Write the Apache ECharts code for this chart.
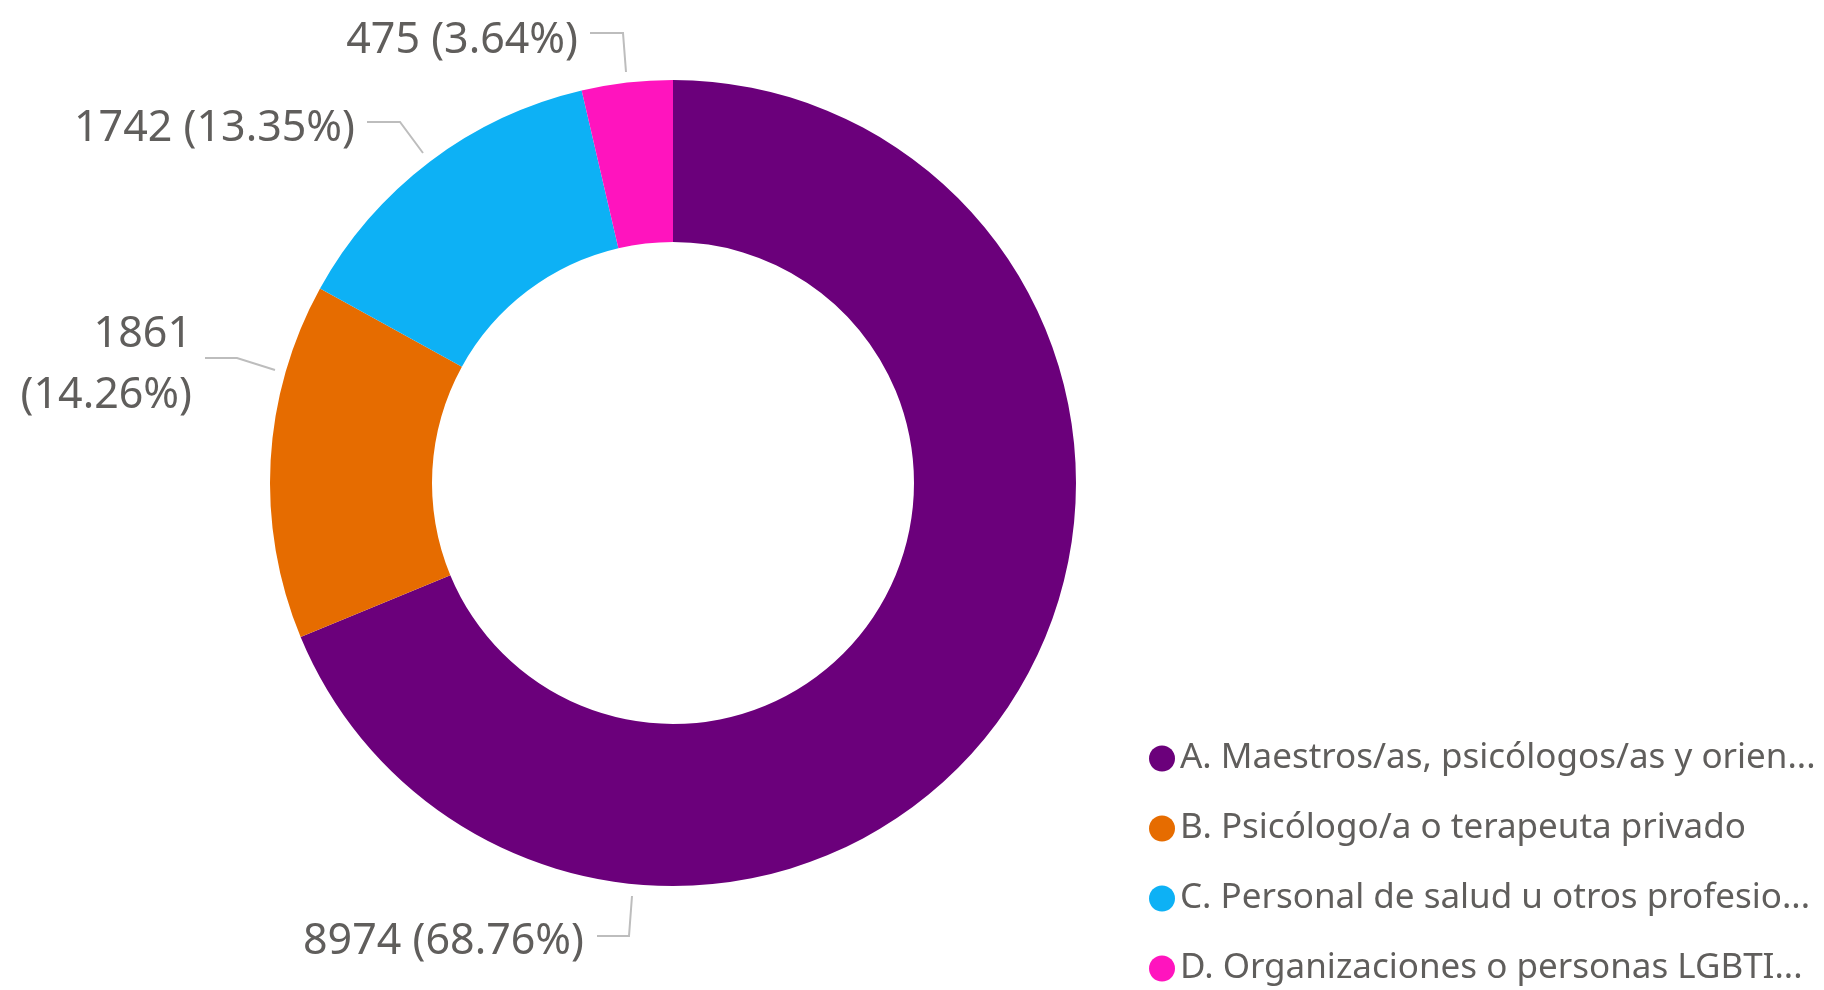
<!DOCTYPE html>
<html>
<head>
    <meta charset="utf-8" />
    <title>Donut</title>
    <script src="https://cdn.jsdelivr.net/npm/echarts@6/dist/echarts.min.js"></script>
    <style>
        html, body { margin: 0; padding: 0; background: #fff; }
    </style>
</head>
<body>
<div id="main" style="width: 1824px;height:990px;"></div>
<script type="text/javascript">
    // categories as shown in the legend
    var categories = [
        'A. Maestros/as, psicólogos/as y orien...',
        'B. Psicólogo/a o terapeuta privado',
        'C. Personal de salud u otros profesio...',
        'D. Organizaciones o personas LGBTI...'
    ];
    var values = [8974, 1861, 1742, 475];
    var colors = ['#6B007B', '#E66C00', '#0DB1F5', '#FF14BE'];

    // where each data label sits (Power BI style placement)
    var labelPlace = [
        { x: 584, y: 942, line: [[632, 896], [629, 936], [597, 936]] },
        { x: 192, y: 365, line: [[275, 370], [237, 358], [205, 358]] },
        { x: 355, y: 129, line: [[423, 153], [400, 122], [367, 122]] },
        { x: 578, y: 41, line: [[626, 72], [623, 33], [590, 33]] }
    ];

    var total = values.reduce(function (a, b) { return a + b; }, 0);

    function pct(v) {
        return (v / total * 100).toFixed(2) + '%';
    }

    var myChart = echarts.init(document.getElementById('main'));

    var pieData = categories.map(function (name, i) {
        return { name: name, value: values[i], itemStyle: { color: colors[i] } };
    });

    var option = {
        animation: false,
        legend: {
            orient: 'vertical',
            left: 1149,
            top: 741,
            height: 400,
            padding: 0,
            icon: 'circle',
            itemWidth: 26,
            itemHeight: 26,
            itemGap: 35,
            textStyle: {
                color: '#605E5C',
                fontSize: 35,
                lineHeight: 32,
                fontFamily: 'Segoe UI, Noto Sans, sans-serif'
            },
            data: categories
        },
        series: [
            {
                type: 'pie',
                center: [673, 483],
                radius: [241, 403],
                startAngle: 90,
                clockwise: true,
                avoidLabelOverlap: false,
                label: {
                    show: true,
                    position: 'outside',
                    formatter: function (p) {
                        // the orange one is wrapped on two lines in the original
                        var sep = p.dataIndex === 1 ? '\n' : ' ';
                        return p.value + sep + '(' + pct(p.value) + ')';
                    },
                    color: '#605E5C',
                    fontSize: 43,
                    lineHeight: 61,
                    fontFamily: 'Segoe UI, Noto Sans, sans-serif'
                },
                labelLine: {
                    show: true,
                    lineStyle: { color: '#BDBDBD', width: 2 }
                },
                labelLayout: function (params) {
                    var p = labelPlace[params.dataIndex];
                    return {
                        x: p.x,
                        y: p.y,
                        align: 'right',
                        verticalAlign: 'middle',
                        labelLinePoints: p.line
                    };
                },
                emphasis: { disabled: true },
                data: pieData
            }
        ]
    };

    myChart.setOption(option);
</script>
</body>
</html>
